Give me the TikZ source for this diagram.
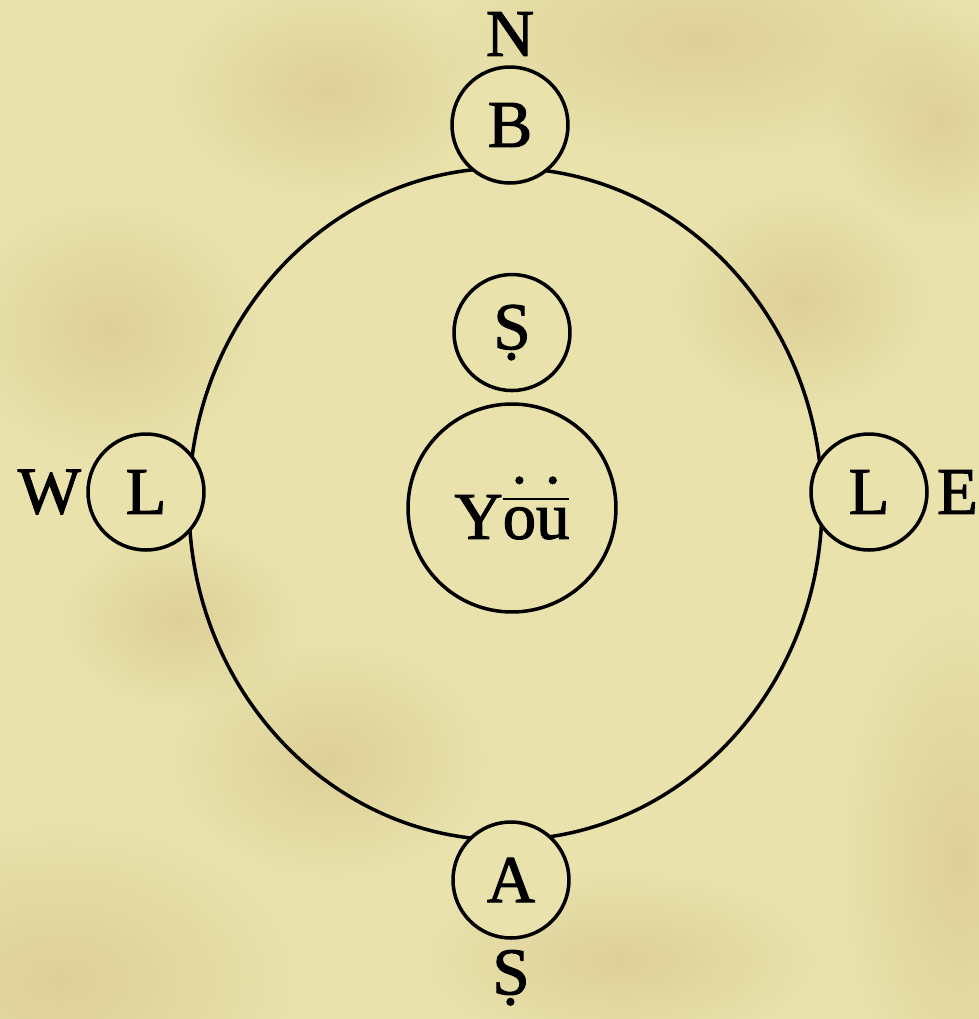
\documentclass[tikz,border=0pt]{standalone}
\usepackage{fontspec}
\setmainfont{Liberation Serif}[FakeBold=1.6]
\usetikzlibrary{positioning,fadings}
\definecolor{parch}{RGB}{233,226,172}
\definecolor{stain}{RGB}{185,150,85}
\tikzfading[name=softblot, inner color=transparent!0, outer color=transparent!100]
\newsavebox{\obox}
\newsavebox{\ubox}
% "ou" with a bar and a dot over each letter
\newcommand{\barou}{\sbox{\obox}{o}\sbox{\ubox}{u}%
  \leavevmode\vbox{\offinterlineskip
    \hbox{\makebox[\wd\obox]{\fontsize{18}{18}\selectfont •}%
          \makebox[\wd\ubox]{\fontsize{18}{18}\selectfont •}}
    \kern4pt
    \hbox{\rule{\dimexpr\wd\obox+\wd\ubox\relax}{1.4pt}}
    \kern4pt
    \hbox{ou}}}

\begin{document}
\begin{tikzpicture}[x=0.02cm, y=-0.02cm,
    ring/.style={line width=2pt},
    disc/.style={circle, draw, line width=2pt, fill=parch, inner sep=0pt,
        minimum size=2.32cm},
    glyph/.style={font=\fontsize{38}{44}\selectfont},
    blot/.style={stain, opacity=0.24, path fading=softblot}
]
% parchment
\fill[parch] (0,0) rectangle (979,1019);
\useasboundingbox (0,0) rectangle (979,1019);
\foreach \cx/\cy/\rx/\ry in {700/40/260/120, 60/980/240/160, 960/860/120/260,
    330/90/160/110, 110/330/150/130, 800/300/130/110, 330/760/160/120,
    940/120/110/110, 180/620/120/90, 620/960/200/90}
  \fill[blot] (\cx,\cy) ellipse [x radius=\rx, y radius=\ry];

% orbit
\draw[ring] (505.5,504) ellipse [x radius=316.5, y radius=336];

\node[disc, glyph, minimum size=4.16cm] (you) at (512,508) {Y\barou};
\node[disc, glyph, above=0.2cm of you] (sun) {Ṣ};
\node[disc, glyph] (top) at (510,125) {B};
\node[disc, glyph] (bottom) at (511,880) {A};
\node[disc, glyph] (west) at (146,492) {L};
\node[disc, glyph] (east) at (869,492) {L};

% compass letters
\node[glyph, inner sep=0pt, above=0.18cm of top] (n) {N};
\node[glyph, inner sep=0pt, below=0.2cm of bottom] (s) {Ṣ};
\node[glyph, inner sep=0pt, left=0.1cm of west] (w) {W};
\node[glyph, inner sep=0pt, right=0.16cm of east] (e) {E};
\end{tikzpicture}
\end{document}
